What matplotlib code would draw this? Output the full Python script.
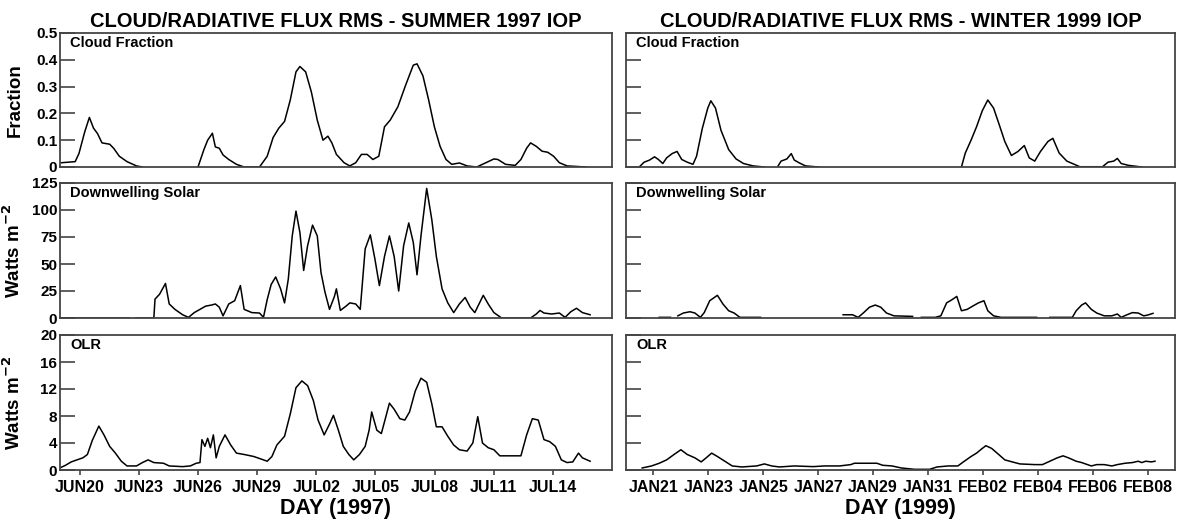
import numpy as np
import matplotlib
matplotlib.use("Agg")
import matplotlib.pyplot as plt

plt.rcParams['font.family'] = ['Liberation Sans', 'DejaVu Sans']
plt.rcParams['font.weight'] = 'bold'
plt.rcParams['mathtext.default'] = 'bf'

nan = np.nan

# ---------------- SUMMER 1997 (x = day of June; JUL d = 30 + d) ----------------
sum_cf_day = [19.08, 19.77, 19.96, 20.25, 20.49, 20.70, 20.90, 21.13, 21.52, 21.72, 22.01, 22.40, 22.88, 23.18,
              24.5,
              26.00, 26.30, 26.49, 26.73, 26.88, 27.08, 27.27, 27.56, 27.95, 28.34, 29.12, 29.51, 29.81, 30.10,
              30.39, 30.68, 30.97, 31.17, 31.46, 31.75, 32.05, 32.34, 32.59, 32.79, 33.02, 33.41, 33.70, 34.00,
              34.29, 34.58, 34.87, 35.17, 35.46, 35.75, 36.14, 36.53, 36.92, 37.11, 37.41, 37.70, 37.99, 38.28,
              38.58, 38.87, 39.26, 39.65, 40.14, 40.72, 41.01, 41.21, 41.60, 42.09, 42.38, 42.67, 42.87, 43.16,
              43.45, 43.74, 44.04, 44.33, 44.72, 45.69]
sum_cf_val = [0.016, 0.02, 0.05, 0.13, 0.185, 0.145, 0.125, 0.09, 0.085, 0.07, 0.04, 0.02, 0.004, 0.0,
              nan,
              0.0, 0.065, 0.10, 0.126, 0.075, 0.07, 0.045, 0.028, 0.01, 0.0, 0.0, 0.04, 0.11, 0.145,
              0.17, 0.25, 0.355, 0.375, 0.355, 0.28, 0.175, 0.10, 0.115, 0.09, 0.047, 0.016, 0.004, 0.016,
              0.047, 0.047, 0.028, 0.04, 0.15, 0.175, 0.225, 0.305, 0.38, 0.385, 0.34, 0.25, 0.15, 0.077,
              0.028, 0.01, 0.015, 0.004, 0.0, 0.02, 0.03, 0.028, 0.01, 0.006, 0.028, 0.07, 0.09, 0.077,
              0.059, 0.055, 0.04, 0.016, 0.004, 0.0]

sum_sw_day = [19.08, 22.50, 22.65, 22.85, 23.76, 23.82, 24.05, 24.35, 24.54, 24.83, 25.22, 25.52, 25.81, 26.10,
              26.39, 26.69, 26.88, 27.08, 27.27, 27.56, 27.86, 28.15, 28.34, 28.73, 29.12, 29.32, 29.51, 29.71,
              29.94, 30.19, 30.39, 30.58, 30.78, 30.97, 31.17, 31.36, 31.56, 31.81, 32.05, 32.24, 32.44, 32.67,
              32.92, 33.02, 33.22, 33.51, 33.70, 34.00, 34.23, 34.48, 34.74, 34.97, 35.20, 35.46, 35.71, 35.95,
              36.18, 36.43, 36.69, 36.92, 37.11, 37.31, 37.60, 37.86, 38.09, 38.38, 38.67, 38.97, 39.26, 39.55,
              39.81, 40.04, 40.47, 40.72, 41.01, 41.40, 42.87, 43.16, 43.35, 43.55, 43.94, 44.33, 44.62, 44.91,
              45.20, 45.50, 45.89]
sum_sw_val = [0, 0, nan, 0, 0, 17.5, 22, 32, 13, 8, 3, 0.6, 5, 8,
              11, 12, 13, 10, 2, 13, 16, 30, 8, 5, 4.6, 0.6, 17, 31,
              38, 27, 14, 36, 76, 99, 79, 44, 67, 86, 76, 42, 24, 8,
              20, 27, 7, 11, 14, 13, 8, 64, 77, 55, 30, 57, 76, 57,
              25, 67, 88, 70, 40, 76, 120, 91, 57, 27, 14, 5, 13, 19,
              10, 5, 21, 13, 5, 0, 0, 3.7, 7, 4.6, 3.7, 4.6, 0.6, 5.8,
              9, 5, 3]

sum_olr_day = [18.99, 19.28, 19.57, 19.86, 20.16, 20.39, 20.64, 20.97, 21.23, 21.52, 21.81, 22.11, 22.40, 22.88,
               23.18, 23.47, 23.76, 24.25, 24.54, 25.22, 25.61, 25.91, 26.10, 26.20, 26.35, 26.49, 26.63, 26.78,
               26.92, 27.08, 27.37, 27.66, 27.95, 28.34, 28.83, 29.32, 29.51, 29.75, 30.00, 30.39, 30.68, 30.97,
               31.27, 31.56, 31.85, 32.09, 32.40, 32.67, 32.87, 33.12, 33.37, 33.65, 33.90, 34.19, 34.48, 34.68,
               34.81, 35.07, 35.30, 35.52, 35.71, 35.95, 36.24, 36.49, 36.73, 37.02, 37.31, 37.60, 37.86, 38.09,
               38.38, 38.67, 38.97, 39.26, 39.65, 39.94, 40.19, 40.43, 40.72, 41.01, 41.31, 42.38, 42.67, 42.96,
               43.26, 43.55, 43.84, 44.13, 44.43, 44.72, 45.01, 45.30, 45.50, 45.89]
sum_olr_val = [0.3, 0.7, 1.2, 1.5, 1.8, 2.3, 4.4, 6.5, 5.2, 3.5, 2.5, 1.3, 0.6, 0.6,
               1.1, 1.5, 1.1, 1.0, 0.6, 0.5, 0.6, 1.0, 1.1, 4.5, 3.5, 4.7, 3.3, 5.2,
               1.8, 3.5, 5.2, 3.7, 2.5, 2.3, 2.0, 1.5, 1.3, 2.0, 3.7, 5.0, 8.3, 12.2,
               13.2, 12.5, 10.3, 7.4, 5.2, 6.8, 8.1, 5.9, 3.5, 2.3, 1.5, 2.3, 3.5, 5.9,
               8.6, 5.9, 5.4, 7.8, 9.9, 9.0, 7.6, 7.4, 8.6, 11.7, 13.6, 13.0, 9.8, 6.4,
               6.4, 5.0, 3.7, 3.0, 2.8, 4.0, 7.9, 4.0, 3.3, 3.0, 2.1, 2.1, 5.2, 7.6,
               7.4, 4.5, 4.2, 3.5, 1.5, 1.1, 1.2, 2.5, 1.8, 1.3]

sum_ticks = [20, 23, 26, 29, 32, 35, 38, 41, 44]
sum_ticklabels = ['JUN20', 'JUN23', 'JUN26', 'JUN29', 'JUL02', 'JUL05', 'JUL08', 'JUL11', 'JUL14']
sum_xlim = (19, 47)

# ---------------- WINTER 1999 (x = day of January; FEB d = 31 + d) ----------------
win_cf_day = [20.52, 20.66, 20.86, 21.04, 21.18, 21.34, 21.48, 21.68, 21.86, 22.03, 22.23, 22.44, 22.57, 22.78,
              22.98, 23.09, 23.26, 23.46, 23.74, 24.01, 24.28, 24.63, 25.04, 25.3, 25.54, 25.65, 25.86, 26.02,
              26.13, 26.30, 26.54, 27.02, 29.5, 32.22, 32.36, 32.57, 32.77, 32.98, 33.18, 33.39, 33.59, 33.80,
              34.04, 34.28, 34.51, 34.69, 34.89, 35.10, 35.37, 35.55, 35.78, 36.06, 36.33, 36.53, 37.36, 37.56,
              37.77, 37.90, 38.04, 38.31, 38.79]
win_cf_val = [0.004, 0.018, 0.026, 0.038, 0.028, 0.013, 0.034, 0.05, 0.058, 0.028, 0.018, 0.01, 0.04, 0.144,
              0.22, 0.247, 0.22, 0.137, 0.065, 0.03, 0.013, 0.004, 0.0, nan, 0.004, 0.022, 0.03, 0.05,
              0.026, 0.016, 0.004, 0.0, nan, 0.0, 0.052, 0.10, 0.15, 0.21, 0.25, 0.22, 0.16, 0.095,
              0.043, 0.058, 0.08, 0.034, 0.022, 0.058, 0.095, 0.107, 0.052, 0.022, 0.01, 0.001, 0.001, 0.018,
              0.022, 0.032, 0.013, 0.006, 0.0]

win_sw_day = [21.21, 21.62, 21.75, 21.89, 22.09, 22.33, 22.51, 22.71, 22.85, 23.05, 23.33, 23.53, 23.74, 23.94,
              24.15, 24.90, 26.5, 27.91, 28.25, 28.46, 28.66, 28.87, 29.08, 29.28, 29.49, 29.76, 30.44, 30.6,
              30.76, 31.27, 31.47, 31.68, 31.88, 32.05, 32.22, 32.43, 32.63, 32.84, 33.04, 33.18, 33.39, 33.66,
              34.96, 35.2, 35.44, 36.26, 36.40, 36.60, 36.74, 36.95, 37.15, 37.42, 37.70, 37.90, 38.04, 38.25,
              38.45, 38.66, 38.86, 39.00, 39.20]
win_sw_val = [0.6, 0.6, nan, 2, 4.6, 5.8, 4.6, 0.6, 5, 16, 21, 13, 6.7, 4.6,
              0.6, 0.6, nan, 3, 3, 0.6, 5, 10, 12, 10, 4.6, 2, 1.5, nan,
              0.6, 0.6, 2, 14, 17, 20, 6.7, 8, 11, 14, 16, 6.7, 2, 0.6,
              0.6, nan, 0.6, 0.6, 6.7, 12, 14, 8, 4.6, 2, 2, 3.7, 0.6, 3,
              5, 4.6, 2, 2.7, 4.3]

win_olr_day = [20.59, 20.93, 21.21, 21.48, 21.75, 22.00, 22.23, 22.51, 22.74, 22.92, 23.12, 23.33, 23.60, 23.87,
               24.22, 24.76, 25.04, 25.31, 25.59, 26.13, 26.82, 27.23, 27.78, 28.19, 28.32, 29.14, 29.35, 29.69,
               30.03, 30.51, 31.06, 31.33, 31.74, 32.09, 32.29, 32.57, 32.77, 32.98, 33.11, 33.32, 33.52, 33.80,
               34.07, 34.35, 34.89, 35.17, 35.44, 35.71, 35.92, 36.12, 36.40, 36.60, 36.95, 37.15, 37.42, 37.70,
               37.90, 38.18, 38.45, 38.66, 38.79, 38.93, 39.14, 39.27]
win_olr_val = [0.3, 0.6, 1.0, 1.5, 2.3, 3.0, 2.3, 1.8, 1.2, 1.8, 2.5, 2.0, 1.3, 0.6,
               0.45, 0.6, 0.9, 0.6, 0.45, 0.6, 0.5, 0.6, 0.6, 0.8, 1.0, 1.0, 0.7, 0.6,
               0.3, 0.1, 0.1, 0.45, 0.6, 0.6, 1.2, 2.0, 2.5, 3.2, 3.6, 3.2, 2.5, 1.5,
               1.2, 0.9, 0.8, 0.8, 1.3, 1.8, 2.1, 1.8, 1.3, 1.1, 0.6, 0.8, 0.8, 0.6,
               0.8, 1.0, 1.1, 1.3, 1.1, 1.3, 1.2, 1.3]

win_ticks = [21, 23, 25, 27, 29, 31, 33, 35, 37, 39]
win_ticklabels = ['JAN21', 'JAN23', 'JAN25', 'JAN27', 'JAN29', 'JAN31', 'FEB02', 'FEB04', 'FEB06', 'FEB08']
win_xlim = (20, 40)

# ---------------- panel definitions ----------------
panel_names = ['Cloud Fraction', 'Downwelling Solar', 'OLR']
y_ticks = [[0, 0.1, 0.2, 0.3, 0.4, 0.5], [0, 25, 50, 75, 100, 125], [0, 4, 8, 12, 16, 20]]
y_ticklabels = [['0', '0.1', '0.2', '0.3', '0.4', '0.5'], ['0', '25', '50', '75', '100', '125'],
                ['0', '4', '8', '12', '16', '20']]
y_labels = ['Fraction', 'Watts m$^{-2}$', 'Watts m$^{-2}$']
titles = ['CLOUD/RADIATIVE FLUX RMS - SUMMER 1997 IOP', 'CLOUD/RADIATIVE FLUX RMS - WINTER 1999 IOP']
x_titles = ['DAY (1997)', 'DAY (1999)']

series = [
    [(sum_cf_day, sum_cf_val), (sum_sw_day, sum_sw_val), (sum_olr_day, sum_olr_val)],
    [(win_cf_day, win_cf_val), (win_sw_day, win_sw_val), (win_olr_day, win_olr_val)],
]
xlims = [sum_xlim, win_xlim]
xticks = [sum_ticks, win_ticks]
xticklabels = [sum_ticklabels, win_ticklabels]

W, H = 1182, 527
fig = plt.figure(figsize=(W / 100, H / 100), dpi=100)

col_x = [(60, 612), (626, 1175)]
row_y = [(33, 167), (183, 318), (335, 470)]

for c in range(2):
    for r in range(3):
        x0, x1 = col_x[c]
        y0, y1 = row_y[r]
        ax = fig.add_axes([x0 / W, 1 - y1 / H, (x1 - x0) / W, (y1 - y0) / H])
        xd, yd = series[c][r]
        ax.plot(np.array(xd), np.array(yd, dtype=float), color='black', lw=1.1)
        ax.set_xlim(*xlims[c])
        ax.set_ylim(y_ticks[r][0], y_ticks[r][-1])
        for s in ax.spines.values():
            s.set_color('#444444')
            s.set_linewidth(1.3)
        ax.set_yticks(y_ticks[r])
        ax.tick_params(axis='y', direction='in', length=11, width=1.2, color='#444444', pad=2,
                       labelsize=11)
        ax.set_xticks(xticks[c])
        if r == 2:
            ax.tick_params(axis='x', direction='out', length=3.5, width=1.2, color='#444444', pad=4,
                           labelsize=11.5)
            ax.set_xticklabels(xticklabels[c], fontweight='bold')
            ax.set_xlabel(x_titles[c], fontsize=15.5, fontweight='bold', labelpad=2)
        else:
            ax.tick_params(axis='x', length=0, labelbottom=False)
        if c == 0:
            ax.set_yticklabels(y_ticklabels[r], fontweight='bold')
            ax.set_ylabel(y_labels[r], fontsize=13.5, fontweight='bold')
            ax.yaxis.set_label_coords(-0.066, 0.5)
        else:
            ax.set_yticklabels([])
        ax.text(0.018, 0.975, panel_names[r], transform=ax.transAxes, ha='left', va='top',
                fontsize=10.5, fontweight='bold')
        if r == 0:
            ax.set_title(titles[c], fontsize=14.5, fontweight='bold', pad=4)

fig.savefig('out.png', dpi=100)
